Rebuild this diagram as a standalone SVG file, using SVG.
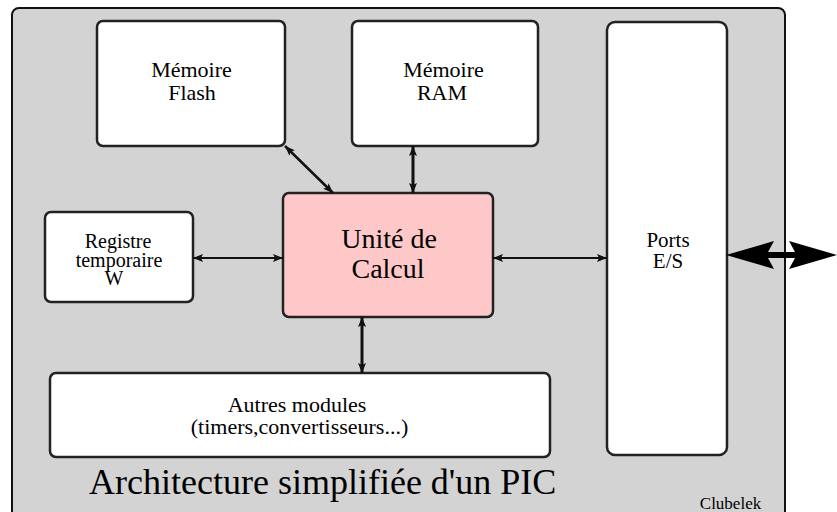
<svg xmlns="http://www.w3.org/2000/svg" width="837" height="512" viewBox="0 0 837 512">
<style>
.box{fill:#fff;stroke:#222;stroke-width:2.5}
.c{stroke:#111;fill:none}
</style>
<defs>
<marker id="ah" viewBox="0 0 10 8" refX="10" refY="4" markerWidth="10" markerHeight="8" markerUnits="userSpaceOnUse" orient="auto-start-reverse">
<path d="M0,0 L10,4 L0,8 L2,4 Z" fill="#111"/>
</marker>
</defs>
<rect x="12" y="8" width="773" height="520" rx="7" fill="#d3d3d3" stroke="#111" stroke-width="2"/>
<g id="flash"><rect class="box" x="97" y="21" width="188" height="125" rx="6"/>
<text x="191.5" y="77" font-family="Times New Roman" font-size="22" text-anchor="middle">Mémoire</text>
<text x="192" y="100" font-family="Times New Roman" font-size="22" text-anchor="middle">Flash</text></g>
<g id="ram"><rect class="box" x="352" y="21" width="186" height="125" rx="6"/>
<text x="443.5" y="77" font-family="Liberation Serif" font-size="22" text-anchor="middle">Mémoire</text>
<text x="442" y="100" font-family="Liberation Serif" font-size="22" text-anchor="middle">RAM</text></g>
<g id="ports"><rect class="box" x="607" y="22" width="120" height="433" rx="8"/>
<text x="668" y="247" font-family="serif" font-size="21" text-anchor="middle">Ports</text>
<text x="668" y="268" font-family="serif" font-size="21" text-anchor="middle">E/S</text></g>
<g id="registre"><rect class="box" x="45" y="212" width="148" height="90" rx="6"/>
<text x="118" y="248" font-family="Liberation Serif" font-size="20" text-anchor="middle">Registre</text>
<text x="119" y="267" font-family="Liberation Serif" font-size="20" text-anchor="middle">temporaire</text>
<text x="114" y="285" font-family="Liberation Serif" font-size="20" text-anchor="middle">W</text></g>
<g id="unite"><rect x="283" y="193" width="210" height="124" rx="6" fill="#ffc8c8" stroke="#222" stroke-width="2.5"/>
<text x="389" y="248" font-family="Liberation Serif" font-size="28" text-anchor="middle">Unité de</text>
<text x="388" y="278" font-family="Liberation Serif" font-size="28" text-anchor="middle">Calcul</text></g>
<g id="autres"><rect class="box" x="50" y="373" width="500" height="84" rx="6"/>
<text x="297" y="412" font-family="Liberation Serif" font-size="22" text-anchor="middle">Autres modules</text>
<text x="299.5" y="434" font-family="Liberation Serif" font-size="22" text-anchor="middle">(timers,convertisseurs...)</text></g>
<g id="connectors">
<line class="c" x1="285" y1="146" x2="333" y2="193" stroke-width="2.5" marker-start="url(#ah)" marker-end="url(#ah)"/>
<line class="c" x1="413" y1="146" x2="413" y2="193" stroke-width="3" marker-start="url(#ah)" marker-end="url(#ah)"/>
<line class="c" x1="193" y1="258" x2="283" y2="258" stroke-width="2" marker-start="url(#ah)" marker-end="url(#ah)"/>
<line class="c" x1="493" y1="258" x2="607" y2="258" stroke-width="2" marker-start="url(#ah)" marker-end="url(#ah)"/>
<line class="c" x1="362" y1="317" x2="362" y2="373" stroke-width="3" marker-start="url(#ah)" marker-end="url(#ah)"/>
<path d="M726,255 L774,241 L768,252 L795,252 L789,241 L837,255 L789,269 L795,258 L768,258 L774,269 Z" fill="#000"/>
</g>
<text x="89" y="494" font-family="Liberation Serif" font-size="36">Architecture simplifiée d'un PIC</text>
<text x="730.5" y="509" font-family="Liberation Serif" font-size="17" text-anchor="middle">Clubelek</text>
</svg>
